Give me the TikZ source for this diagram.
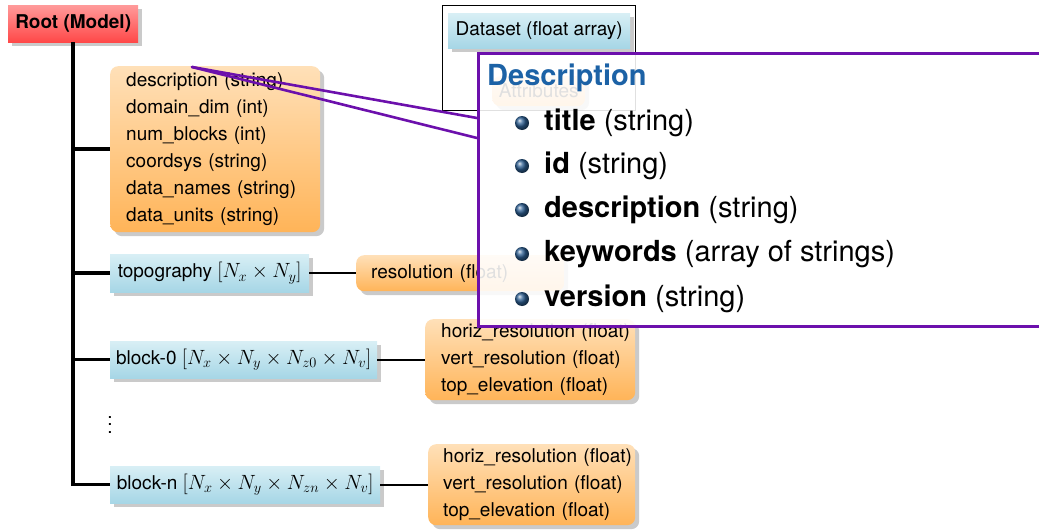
\RequirePackage{fix-cm}
\documentclass[tikz,border=0pt]{standalone}
\usepackage{fontspec}
\setmainfont{TeX Gyre Heros}
\usetikzlibrary{shadows,shadings}
\definecolor{bluetop}{HTML}{D8EFF5}
\definecolor{bluebot}{HTML}{A6D6E6}
\definecolor{orgtop}{HTML}{FFE0B8}
\definecolor{orgbot}{HTML}{FFB458}
\definecolor{redtop}{HTML}{FF9A9A}
\definecolor{redbot}{HTML}{FF4848}
\definecolor{callpurple}{RGB}{108,16,172}
\definecolor{titleblue}{HTML}{1C62A6}
\definecolor{ballblue}{HTML}{2C5E92}
\newcommand{\mth}[1]{{\fontsize{20.6}{27}\selectfont$#1$}}
\tikzset{
  base/.style={font=\fontsize{19}{27}\selectfont, inner sep=0pt, anchor=north west,
    drop shadow={shadow xshift=4pt, shadow yshift=-4pt, opacity=0.35, fill=black!60}},
  rootbox/.style={base, top color=redtop, bottom color=redbot, font=\fontsize{19}{23}\selectfont\bfseries},
  bluebox/.style={base, top color=bluetop, bottom color=bluebot, inner xsep=5pt},
  orgbox/.style={base, top color=orgtop, bottom color=orgbot, rounded corners=8pt, align=left},
  trunk/.style={line width=3.5pt},
  twig/.style={line width=1.6pt},
  callline/.style={draw=callpurple, line width=2.6pt},
  itemtxt/.style={font=\fontsize{29}{33}\selectfont, anchor=west, inner sep=0pt},
  bullet/.style={circle, minimum size=14pt, inner sep=0pt, shading=ball, ball color=ballblue},
}
\begin{document}
\begin{tikzpicture}[x=1pt,y=-1pt]
\useasboundingbox (0,0) rectangle (1039,530);
% container of dataset
\node[draw=black, line width=0.6pt, minimum width=193pt, minimum height=105pt, anchor=north west, inner sep=0pt] (dsframe) at (442,5) {};
% nodes
\node[rootbox, minimum width=130pt, minimum height=37pt] (root) at (8,5) {Root (Model)};
\node[orgbox, minimum height=166pt, text width=178pt, inner xsep=16pt] (attrs) at (110,66)
  {\mbox{description (string)}\\\mbox{domain\_dim (int)}\\\mbox{num\_blocks (int)}\\\mbox{coordsys (string)}\\\mbox{data\_names (string)}\\\mbox{data\_units (string)}};
\node[bluebox, minimum width=199pt, minimum height=38pt] (topo) at (110,254) {topography \mth{[N_x\times N_y]}};
\node[orgbox, minimum height=36pt, text width=178pt, inner xsep=15pt] (res) at (356,255) {\mbox{resolution (float)}};
\node[bluebox, minimum width=267pt, minimum height=37pt] (b0) at (110,341) {block-0 \mth{[N_x\times N_y\times N_{z0}\times N_v]}};
\node[orgbox, minimum height=81pt, text width=178pt, inner xsep=16pt] (a0) at (425,319)
  {\mbox{horiz\_resolution (float)}\\\mbox{vert\_resolution (float)}\\\mbox{top\_elevation (float)}};
\node[inner sep=0pt, font=\fontsize{19}{23}\selectfont] (dots) at (110,425) {\vbox{\baselineskip=7.5pt\lineskiplimit=-20pt\hbox{.}\hbox{.}\hbox{.}}};
\node[bluebox, minimum width=270pt, minimum height=37pt] (bn) at (110,466) {block-n \mth{[N_x\times N_y\times N_{zn}\times N_v]}};
\node[orgbox, minimum height=81pt, text width=177pt, inner xsep=15pt] (an) at (428,444)
  {\mbox{horiz\_resolution (float)}\\\mbox{vert\_resolution (float)}\\\mbox{top\_elevation (float)}};
\node[bluebox, minimum width=182pt, minimum height=35pt] (ds) at (448,13) {Dataset (float array)};
\node[orgbox, minimum width=93pt, minimum height=30pt, align=center] (dsattr) at (492,76) {Attributes};
% connectors
\draw[trunk] (root.south) |- (bn.west);
\draw[trunk] (attrs.west -| root.south) -- (attrs.west);
\draw[trunk] (topo.west -| root.south) -- (topo.west);
\draw[trunk] (b0.west -| root.south) -- (b0.west);
\draw[twig] (topo.east) -- (topo.east -| res.west);
\draw[twig] (b0.east) -- (b0.east -| a0.west);
\draw[twig] (bn.east) -- (bn.east -| an.west);
% callout
\coordinate (tip) at (192,67);
\node[draw=callpurple, line width=2.6pt, fill=white, fill opacity=0.88, anchor=north west, minimum width=580pt, minimum height=273pt, inner sep=0pt] (callout) at (477,52) {};
\coordinate (ca) at (477,118);
\coordinate (cb) at (477,138);
\draw[callline, line cap=round] (tip) -- (ca);
\draw[callline, line cap=round] (tip) -- (cb);
\node[font=\fontsize{29}{33}\selectfont\bfseries, text=titleblue, anchor=west, inner sep=0pt] (ctitle) at (487,78) {Description};
\node[bullet] (b1) at (522,123) {};
\node[itemtxt] (t1) at (544,123) {\textbf{title} (string)};
\node[bullet] (b2) at (522,166) {};
\node[itemtxt] (t2) at (544,166) {\textbf{id} (string)};
\node[bullet] (b3) at (522,210) {};
\node[itemtxt] (t3) at (544,210) {\textbf{description} (string)};
\node[bullet] (b4) at (522,254) {};
\node[itemtxt] (t4) at (544,254) {\textbf{keywords} (array of strings)};
\node[bullet] (b5) at (522,299) {};
\node[itemtxt] (t5) at (544,299) {\textbf{version} (string)};
\end{tikzpicture}
\end{document}
